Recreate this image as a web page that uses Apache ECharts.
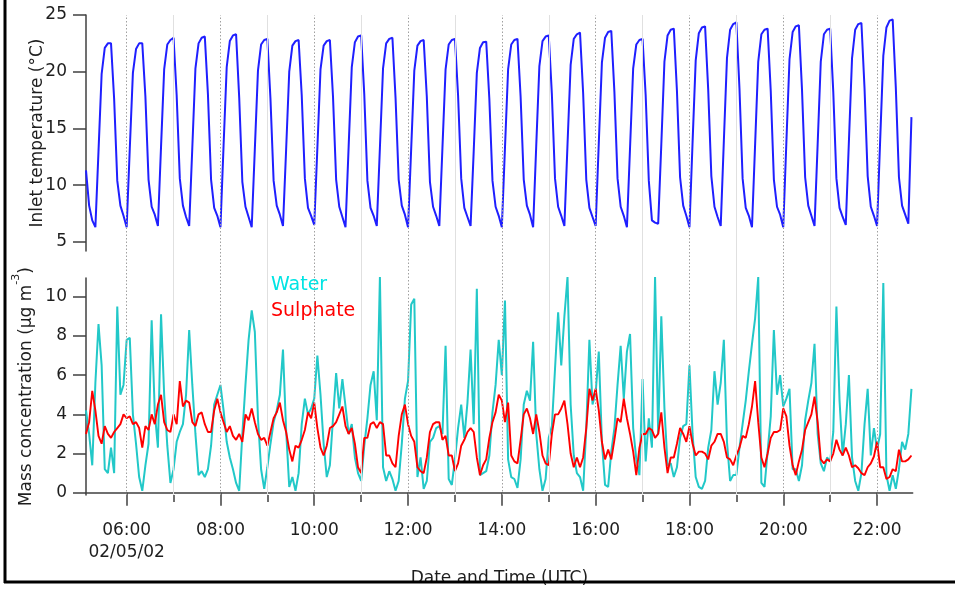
<!DOCTYPE html>
<html>
<head>
<meta charset="utf-8">
<script src="https://cdn.jsdelivr.net/npm/echarts@6/dist/echarts.min.js"></script>
<style>
  html, body { margin: 0; padding: 0; background: #ffffff; }
  #chart { width: 955px; height: 590px; }
</style>
</head>
<body>
<div id="chart"></div>
<script>
// Records every 4 minutes, starting 05:08 UTC on 02/05/02 (hours of day)
const firstSampleHour = 5 + 8 / 60;
const sampleStepMinutes = 4;
const axisStartHour = 5 + 8 / 60;
const axisEndHour = 22.76;

// Inlet temperature (°C)
const inletTemperature = [
  11.3, 8.2, 6.9,
  6.3, 13.0, 19.8, 22.1, 22.5, 22.5, 17.6, 10.4, 8.2, 7.3,
  6.3, 13.2, 19.9, 22.0, 22.5, 22.5, 17.8, 10.5, 8.1, 7.4,
  6.4, 13.4, 20.2, 22.4, 22.8, 23.0, 17.9, 10.6, 8.2, 7.2,
  6.4, 13.3, 20.3, 22.5, 23.0, 23.1, 18.0, 10.5, 8.0, 7.3,
  6.3, 13.5, 20.4, 22.7, 23.2, 23.3, 17.7, 10.3, 8.1, 7.2,
  6.3, 13.2, 20.1, 22.4, 22.8, 22.9, 17.6, 10.4, 8.2, 7.4,
  6.4, 13.1, 20.0, 22.3, 22.7, 22.8, 17.9, 10.6, 8.0, 7.3,
  6.5, 13.3, 20.2, 22.3, 22.7, 22.8, 17.8, 10.5, 8.1, 7.2,
  6.3, 13.4, 20.4, 22.6, 23.1, 23.2, 18.0, 10.4, 8.0, 7.3,
  6.4, 13.3, 20.3, 22.5, 22.9, 23.0, 17.7, 10.5, 8.2, 7.4,
  6.3, 13.2, 20.1, 22.3, 22.7, 22.8, 17.8, 10.3, 8.1, 7.3,
  6.4, 13.3, 20.2, 22.4, 22.8, 22.9, 17.9, 10.6, 8.0, 7.2,
  6.4, 13.0, 19.9, 22.1, 22.6, 22.65, 17.6, 10.4, 8.1, 7.3,
  6.3, 13.3, 20.2, 22.4, 22.8, 22.9, 17.8, 10.5, 8.2, 7.4,
  6.3, 13.5, 20.5, 22.7, 23.1, 23.2, 18.0, 10.6, 8.1, 7.3,
  6.4, 13.6, 20.6, 22.9, 23.3, 23.45, 18.1, 10.5, 8.0, 7.2,
  6.4, 13.7, 20.8, 23.0, 23.5, 23.6, 18.2, 10.6, 8.1, 7.3,
  6.3, 13.3, 20.3, 22.4, 22.8, 22.9, 17.9, 10.4, 6.9, 6.7,
  6.6, 13.6, 20.9, 23.2, 23.7, 23.8, 18.3, 10.7, 8.2, 7.3,
  6.3, 13.8, 21.0, 23.4, 23.9, 24.0, 18.4, 10.8, 8.1, 7.2,
  6.4, 13.9, 21.2, 23.7, 24.2, 24.35, 18.5, 10.6, 8.0, 7.3,
  6.3, 13.6, 20.9, 23.3, 23.7, 23.8, 18.3, 10.5, 8.1, 7.4,
  6.3, 13.8, 21.1, 23.5, 24.0, 24.1, 18.4, 10.7, 8.2, 7.3,
  6.4, 13.6, 20.9, 23.3, 23.7, 23.8, 18.2, 10.6, 8.0, 7.2,
  6.5, 13.9, 21.2, 23.7, 24.2, 24.3, 18.5, 10.8, 8.1, 7.3,
  6.4, 14.0, 21.4, 23.9, 24.5, 24.6, 18.6, 10.7, 8.2, 7.4,
  6.6, 16.0
];

// Water mass concentration (µg m-3)
const water = [
  4.2, 3.0, 1.4, 5.6, 8.6, 6.5, 1.2, 1.0, 2.3, 1.0,
  9.5, 5.0, 5.5, 7.8, 7.9, 4.0, 2.5, 0.8, 0.1, 1.4,
  2.5, 8.8, 4.1, 2.3, 9.1, 5.0, 2.4, 0.5, 1.2, 2.6,
  3.1, 3.5, 5.0, 8.3, 5.5, 3.0, 0.9, 1.1, 0.8, 1.2,
  2.4, 4.5, 5.0, 5.5, 4.2, 2.6, 1.8, 1.2, 0.5, 0.1,
  3.0, 5.5, 7.8, 9.3, 8.2, 3.8, 1.2, 0.2, 1.3, 2.5,
  3.6, 4.2, 5.0, 7.3, 3.2, 0.3, 0.8, 0.1, 1.0, 3.5,
  4.8, 4.0, 4.3, 4.8, 7.0, 5.0, 2.5, 0.8, 1.4, 3.8,
  6.1, 4.3, 5.8, 4.4, 3.0, 3.5, 1.8, 1.0, 0.6,
  2.4, 3.8, 5.5, 6.2, 3.7, 11.0, 1.3, 0.6, 1.1, 0.7,
  0.1, 0.6, 2.5, 4.8, 5.7, 9.6, 9.9, 0.8, 1.8, 0.2,
  0.6, 2.6, 2.8, 3.3, 3.4, 3.0, 7.5, 0.7, 0.4, 1.7,
  3.3, 4.5, 2.8, 4.6, 7.3, 3.5, 10.4, 0.9, 1.0, 1.1,
  1.9, 4.1, 5.5, 7.8, 6.0, 9.8, 1.7, 0.8, 0.7, 0.25,
  1.7, 4.5, 5.2, 4.7, 7.7, 3.0, 1.2, 0.1, 0.7, 2.8,
  3.4, 6.3, 9.2, 6.5, 9.0, 11.0, 4.5, 1.9, 1.0, 0.8,
  0.1, 3.3, 7.8, 4.5, 5.1, 7.2, 2.6, 0.4, 0.3, 2.1,
  3.3, 5.5, 7.5, 4.8, 7.2, 8.1, 3.3, 1.7, 0.9,
  5.8, 1.6, 3.8, 2.3, 11.0, 3.0, 9.0, 4.3, 1.4, 1.5,
  0.8, 1.3, 2.8, 3.4, 3.5, 6.5, 3.0, 0.8, 0.3, 0.2,
  0.6, 2.3, 3.2, 6.2, 4.5, 5.6, 7.8, 2.6, 0.6, 0.9,
  0.9, 2.3, 3.5, 4.7, 6.2, 7.6, 8.9, 11.0, 0.5, 0.3,
  2.1, 3.9, 8.3, 5.0, 6.0, 4.4, 4.8, 5.3, 1.2, 1.2,
  0.6, 1.4, 3.7, 4.7, 5.6, 7.6, 3.0, 1.5, 1.1, 1.8,
  1.6, 3.1, 9.5, 4.7, 1.9, 3.5, 6.0, 1.8, 0.6, 0.1,
  1.0, 3.5, 5.3, 1.9, 3.3, 2.2, 3.0, 10.7, 0.9, 0.1,
  0.9, 0.2, 1.2, 2.6, 2.2, 3.0, 5.3
];

// Sulphate mass concentration (µg m-3)
const sulphate = [
  3.0, 3.6, 5.2, 4.2, 2.9, 2.5, 3.4, 3.0, 2.8, 3.1,
  3.3, 3.5, 4.0, 3.8, 3.9, 3.5, 3.6, 3.3, 2.3, 3.4,
  3.2, 4.0, 3.5, 4.5, 5.0, 3.6, 3.2, 3.1, 4.0, 3.5,
  5.7, 4.4, 4.7, 4.6, 3.6, 3.4, 4.0, 4.1, 3.5, 3.1,
  3.1, 4.2, 4.8, 4.1, 3.6, 3.1, 3.4, 2.9, 2.7, 3.0,
  2.6, 4.0, 3.7, 4.3, 3.6, 3.0, 2.7, 2.8, 2.4, 3.1,
  3.8, 4.1, 4.6, 3.7, 3.1, 2.2, 1.6, 2.4, 2.3, 2.7,
  3.2, 4.1, 3.8, 4.6, 3.3, 2.3, 1.9, 2.4, 3.3, 3.4,
  3.6, 4.0, 4.4, 3.4, 3.0, 3.3, 2.5, 1.3, 1.0,
  2.8, 2.8, 3.5, 3.6, 3.3, 3.6, 3.5, 1.9, 1.9, 1.5,
  1.3, 2.9, 4.0, 4.5, 3.5, 2.9, 2.6, 1.3, 1.1, 1.0,
  1.8, 3.1, 3.5, 3.6, 3.6, 2.7, 2.9, 1.9, 1.9, 1.1,
  1.5, 2.4, 2.7, 3.1, 3.3, 3.1, 1.8, 0.9, 1.4, 1.7,
  2.8, 3.6, 4.1, 5.0, 4.7, 3.6, 4.6, 1.9, 1.6, 1.5,
  2.7, 4.0, 4.3, 3.8, 3.0, 4.0, 3.1, 1.9, 1.5, 1.4,
  3.0, 4.0, 4.0, 4.3, 4.7, 3.5, 2.0, 1.3, 1.8, 1.3,
  1.8, 3.3, 5.3, 4.7, 5.3, 4.2, 2.6, 1.7, 2.2, 1.7,
  2.7, 3.8, 3.6, 4.8, 3.8, 3.0, 2.1, 0.9, 2.3,
  3.0, 3.0, 3.3, 3.2, 2.8, 3.0, 4.1, 2.3, 1.0, 1.8,
  1.8, 2.5, 3.3, 3.0, 2.6, 3.4, 2.5, 1.9, 2.1, 2.1,
  2.0, 1.7, 2.4, 2.6, 3.0, 3.0, 2.6, 1.8, 1.7, 1.4,
  1.9, 2.3, 2.9, 2.8, 3.5, 4.4, 5.7, 3.6, 1.8, 1.3,
  2.0, 2.8, 3.1, 3.1, 3.2, 4.3, 3.9, 2.4, 1.4, 0.9,
  1.6, 2.2, 3.2, 3.6, 4.0, 4.9, 3.6, 1.7, 1.5, 1.7,
  1.6, 2.0, 2.7, 2.2, 1.9, 2.3, 1.9, 1.3, 1.4, 1.25,
  1.0, 0.9, 1.3, 1.5, 1.85, 2.6, 1.3, 1.3, 0.7, 0.8,
  1.2, 1.1, 2.2, 1.6, 1.6, 1.7, 1.9
];

// Time axis ticks (hour of day)
const majorTickHours = [6, 8, 10, 12, 14, 16, 18, 20, 22];
const majorTickLabels = ['06:00\n02/05/02', '08:00', '10:00', '12:00', '14:00', '16:00', '18:00', '20:00', '22:00'];
const minorTickHours = [7, 9, 11, 13, 15, 17, 19, 21];
const temperatureTicks = [5, 10, 15, 20, 25];
const concentrationTicks = [0, 2, 4, 6, 8, 10];

const FONT = 'DejaVu Sans';
const INK = '#1e1e1e';
const AXIS = '#404040';

function toSeries(values) {
  return values.map((v, i) => [firstSampleHour + (i * sampleStepMinutes) / 60, v]);
}

const plotLeft = 86;
const plotRight = 42.3;

const hourGuides = majorTickHours.map(h => ({
  xAxis: h,
  lineStyle: { color: '#a0a0a0', type: [1.5, 2], width: 1 }
})).concat(minorTickHours.map(h => ({
  xAxis: h,
  lineStyle: { color: '#e0e0e0', type: 'solid', width: 1 }
})));

const chart = echarts.init(document.getElementById('chart'), null, { renderer: 'canvas' });

chart.setOption({
  animation: false,
  backgroundColor: '#ffffff',
  textStyle: { fontFamily: FONT },
  legend: {
    orient: 'vertical',
    left: 266,
    top: 275,
    padding: 0,
    itemGap: 6,
    icon: 'none',
    itemWidth: 0,
    itemHeight: 0,
    selectedMode: false,
    textStyle: { fontFamily: FONT, fontSize: 19, lineHeight: 20 },
    data: [
      { name: 'Water', textStyle: { color: '#00e4e4' } },
      { name: 'Sulphate', textStyle: { color: '#ff0000' } }
    ]
  },
  grid: [
    { left: plotLeft, right: plotRight, top: 15, height: 236 },
    { left: plotLeft, right: plotRight, top: 278.1, height: 217 },
    { left: plotLeft, right: plotRight, top: 15, height: 480 }
  ],
  xAxis: [
    { gridIndex: 0, type: 'value', min: axisStartHour, max: axisEndHour, show: false },
    {
      gridIndex: 1, type: 'value', position: 'bottom', min: axisStartHour, max: axisEndHour,
      axisLine: { show: true, lineStyle: { color: AXIS, width: 1.5 } },
      axisTick: { show: true, customValues: majorTickHours, length: 13, lineStyle: { color: AXIS, width: 1.5 } },
      axisLabel: {
        show: true,
        customValues: majorTickHours,
        margin: 24,
        color: INK,
        fontFamily: FONT,
        fontSize: 17,
        lineHeight: 22,
        formatter: v => majorTickLabels[majorTickHours.indexOf(Math.round(v))] || ''
      },
      splitLine: { show: false },
      name: 'Date and Time (UTC)',
      nameLocation: 'middle',
      nameGap: 75,
      nameTextStyle: { color: INK, fontFamily: FONT, fontSize: 17 }
    },
    {
      gridIndex: 1, type: 'value', position: 'bottom', min: axisStartHour, max: axisEndHour,
      axisLine: { show: false },
      axisTick: { show: true, customValues: minorTickHours, length: 7, lineStyle: { color: AXIS, width: 1.5 } },
      axisLabel: { show: false },
      splitLine: { show: false }
    },
    { gridIndex: 2, type: 'value', min: axisStartHour, max: axisEndHour, show: false }
  ],
  yAxis: [
    {
      gridIndex: 0, type: 'value', min: 4.2, max: 25,
      axisLine: { show: true, lineStyle: { color: AXIS, width: 1.5 } },
      axisTick: { show: true, customValues: temperatureTicks, length: 13, lineStyle: { color: AXIS, width: 1.5 } },
      axisLabel: { show: true, customValues: temperatureTicks, margin: 19, color: INK, fontFamily: FONT, fontSize: 17 },
      splitLine: { show: false },
      name: 'Inlet temperature (°C)',
      nameLocation: 'middle',
      nameGap: 40,
      nameMoveOverlap: false,
      nameTextStyle: { color: INK, fontFamily: FONT, fontSize: 17 }
    },
    {
      gridIndex: 1, type: 'value', min: -0.12, max: 10.95,
      axisLine: { show: true, lineStyle: { color: AXIS, width: 1.5 } },
      axisTick: { show: true, customValues: concentrationTicks, length: 13, lineStyle: { color: AXIS, width: 1.5 } },
      axisLabel: { show: true, customValues: concentrationTicks, margin: 19, color: INK, fontFamily: FONT, fontSize: 17 },
      splitLine: { show: false },
      name: '{a|Mass concentration (µg m}{s|-3}{a|)}',
      nameLocation: 'middle',
      nameGap: 51,
      nameMoveOverlap: false,
      nameTextStyle: {
        color: INK, fontFamily: FONT, fontSize: 17,
        rich: {
          a: { color: INK, fontFamily: FONT, fontSize: 17, lineHeight: 24, verticalAlign: 'bottom' },
          s: { color: INK, fontFamily: FONT, fontSize: 11, lineHeight: 24, verticalAlign: 'top' }
        }
      }
    },
    { gridIndex: 2, type: 'value', min: 0, max: 1, show: false }
  ],
  series: [
    {
      name: 'hour guides',
      type: 'line',
      xAxisIndex: 3,
      yAxisIndex: 2,
      data: [],
      silent: true,
      z: 1,
      markLine: {
        silent: true,
        symbol: ['none', 'none'],
        label: { show: false },
        animation: false,
        data: hourGuides
      }
    },
    {
      name: 'Inlet temperature',
      type: 'line',
      xAxisIndex: 0,
      yAxisIndex: 0,
      data: toSeries(inletTemperature),
      showSymbol: false,
      z: 3,
      lineStyle: { color: '#1f1fff', width: 2 },
      itemStyle: { color: '#1f1fff' }
    },
    {
      name: 'Water',
      type: 'line',
      xAxisIndex: 1,
      yAxisIndex: 1,
      data: toSeries(water),
      showSymbol: false,
      z: 3,
      lineStyle: { color: '#22c8c8', width: 2 },
      itemStyle: { color: '#22c8c8' }
    },
    {
      name: 'Sulphate',
      type: 'line',
      xAxisIndex: 1,
      yAxisIndex: 1,
      data: toSeries(sulphate),
      showSymbol: false,
      z: 4,
      lineStyle: { color: '#ff0000', width: 1.9 },
      itemStyle: { color: '#ff0000' }
    }
  ],
  graphic: [
    { type: 'line', z: 100, shape: { x1: 5, y1: 0, x2: 5, y2: 583 }, style: { stroke: '#000000', lineWidth: 3 } },
    { type: 'line', z: 100, shape: { x1: 4, y1: 582, x2: 955, y2: 582 }, style: { stroke: '#000000', lineWidth: 3 } }
  ]
});
</script>
</body>
</html>
